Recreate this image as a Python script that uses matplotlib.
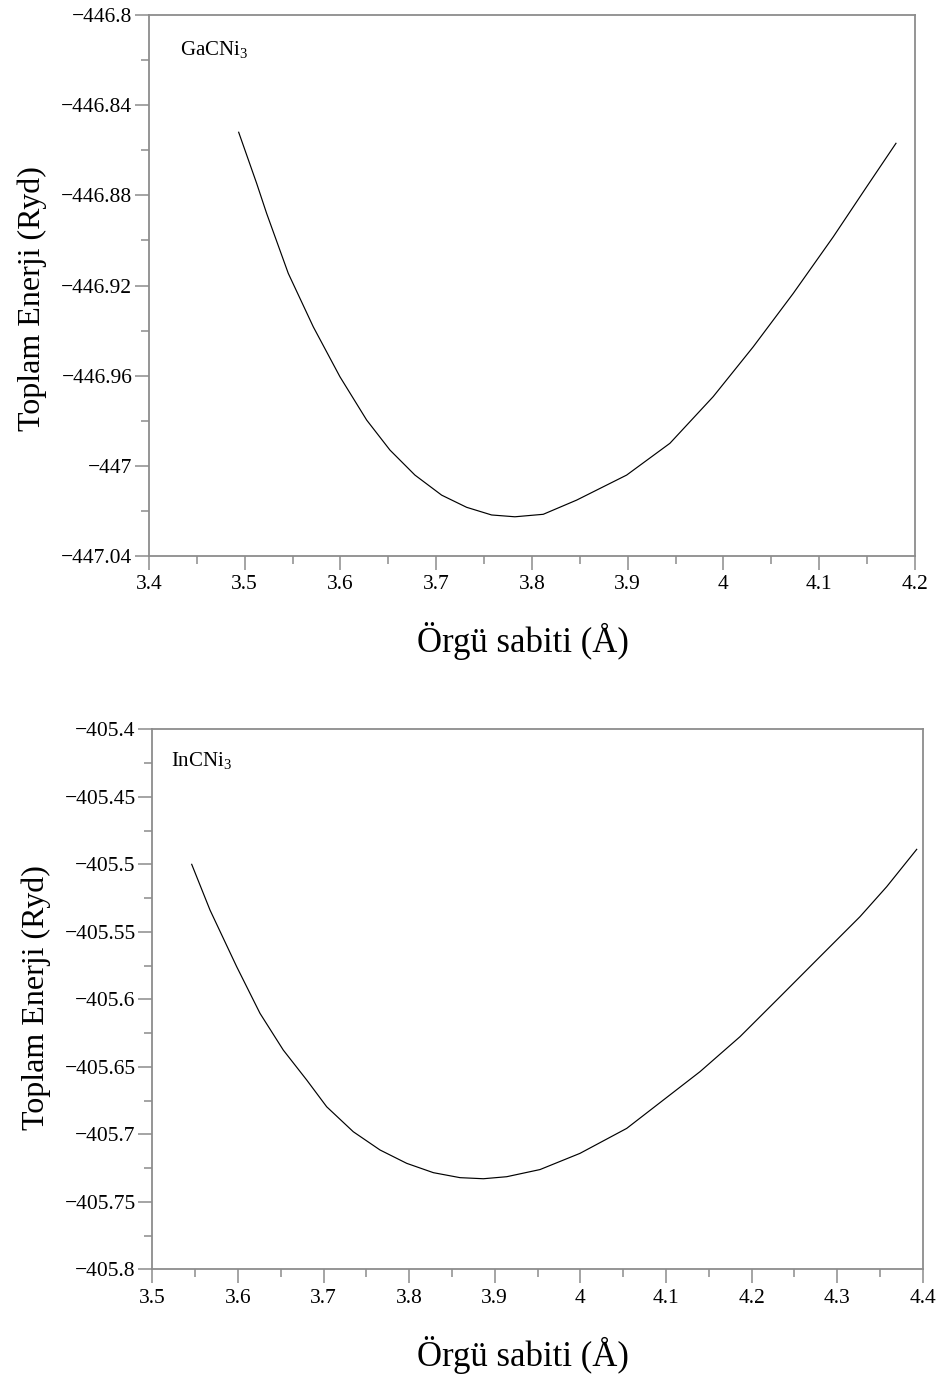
import numpy as np
import matplotlib
matplotlib.use('Agg')
import matplotlib.pyplot as plt
from matplotlib.ticker import MultipleLocator, FuncFormatter

# GaCNi3: lattice constant (A) vs total energy (Ryd)
ga_a = [3.4937, 3.5125, 3.5229, 3.5455, 3.5716, 3.5995, 3.6274, 3.6517,
        3.6778, 3.7057, 3.7318, 3.7579, 3.7822, 3.8118, 3.8467, 3.8989,
        3.9441, 3.9893, 4.0311, 4.0729, 4.1147, 4.1496, 4.1802]
ga_e = [-446.8520, -446.8747, -446.8880, -446.9146, -446.9383, -446.9605,
        -446.9797, -446.9930, -447.0041, -447.0130, -447.0184, -447.0218,
        -447.0226, -447.0215, -447.0152, -447.0041, -446.9900, -446.9693,
        -446.9472, -446.9235, -446.8984, -446.8762, -446.8569]

# InCNi3
in_a = [3.5460, 3.5674, 3.5986, 3.6258, 3.6530, 3.6804, 3.7037, 3.7348,
        3.7660, 3.7972, 3.8283, 3.8595, 3.8867, 3.9140, 3.9529, 3.9996,
        4.0542, 4.0970, 4.1398, 4.1865, 4.2333, 4.2800, 4.3267, 4.3579,
        4.3930]
in_e = [-405.5000, -405.5339, -405.5759, -405.6104, -405.6376, -405.6598,
        -405.6796, -405.6981, -405.7116, -405.7215, -405.7284, -405.7321,
        -405.7329, -405.7314, -405.7261, -405.7141, -405.6956, -405.6746,
        -405.6536, -405.6277, -405.5981, -405.5684, -405.5388, -405.5166,
        -405.4889]

plt.rcParams['font.family'] = ['Liberation Serif', 'DejaVu Serif']
plt.rcParams['mathtext.fontset'] = 'custom'
plt.rcParams['mathtext.rm'] = 'Liberation Serif'

AXIS_GRAY = '#8c8c8c'


def fmt(v, pos):
    return ('%g' % round(v, 5)).replace('-', '\u2212')


def setup_axes(ax, xlim, ylim, xmaj, xmin, ymaj, ymin):
    ax.set_xlim(*xlim)
    ax.set_ylim(*ylim)
    ax.xaxis.set_major_locator(MultipleLocator(xmaj))
    ax.xaxis.set_minor_locator(MultipleLocator(xmin))
    ax.yaxis.set_major_locator(MultipleLocator(ymaj))
    ax.yaxis.set_minor_locator(MultipleLocator(ymin))
    ax.xaxis.set_major_formatter(FuncFormatter(fmt))
    ax.yaxis.set_major_formatter(FuncFormatter(fmt))
    for s in ax.spines.values():
        s.set_color(AXIS_GRAY)
        s.set_linewidth(1.3)
    ax.tick_params(which='both', direction='out', color=AXIS_GRAY,
                   width=1.1, top=False, right=False, labelsize=15.5)
    ax.tick_params(which='major', length=10)
    ax.tick_params(which='minor', length=5.5)
    ax.tick_params(axis='x', pad=4)
    ax.tick_params(axis='y', pad=2)
    ax.set_xlabel('Örgü sabiti (Å)', fontsize=25, labelpad=20)
    ax.set_ylabel('Toplam Enerji (Ryd)', fontsize=23, labelpad=10)


fig = plt.figure(figsize=(9.38, 13.8), dpi=100)

ax1 = fig.add_axes([0.1588, 0.5971, 0.8166, 0.3920])
ax1.plot(ga_a, ga_e, color='black', lw=0.85)
setup_axes(ax1, (3.4, 4.2), (-447.04, -446.8), 0.1, 0.05, 0.04, 0.02)
ax1.text(0.04, 0.926, r'GaCNi$_{\mathrm{3}}$', transform=ax1.transAxes, fontsize=15)
ax1.xaxis.label.set_x(0.488)
ax1.yaxis.label.set_y(0.475)

ax2 = fig.add_axes([0.1624, 0.0802, 0.8213, 0.3913])
ax2.plot(in_a, in_e, color='black', lw=0.85)
setup_axes(ax2, (3.5, 4.4), (-405.8, -405.4), 0.1, 0.05, 0.05, 0.025)
ax2.text(0.024, 0.931, r'InCNi$_{\mathrm{3}}$', transform=ax2.transAxes, fontsize=15)
ax2.xaxis.label.set_x(0.481)
ax2.yaxis.label.set_y(0.504)

fig.savefig('out.png', dpi=100)
